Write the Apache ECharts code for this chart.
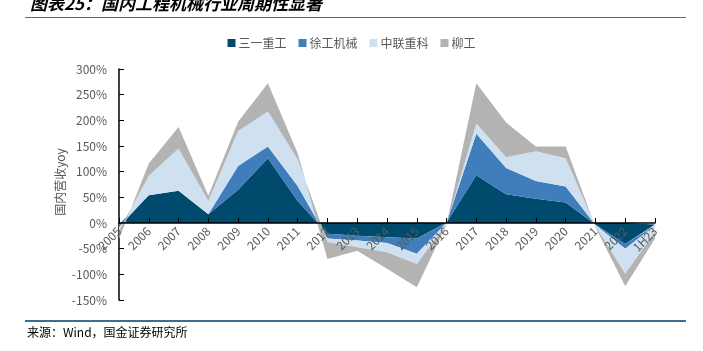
<!DOCTYPE html>
<html><head><meta charset="utf-8">
<script src="https://cdn.jsdelivr.net/npm/echarts@6/dist/echarts.min.js"></script>
<style>html,body{margin:0;padding:0;background:#fff}#c{width:703px;height:351px}</style>
</head><body><div id="c"></div>
<script>
const categories = ['2005','2006','2007','2008','2009','2010','2011','2012','2013','2014','2015','2016','2017','2018','2019','2020','2021','2022','1H23'];
const sany   = [-3, 54, 63, 17, 65, 126, 43, -21, -25, -28, -30, 1, 93, 56, 47, 40, -3, -41, -3];
const xcmg   = [-5, 0, 0, 0, 46, 23, 29, -9, -9, -11, -30, 0, 81, 51, 35, 31, -1, -9, -2];
const zoomlion = [-7, 38, 82, 26, 68, 68, 52, -7, -13, -18, -20, -2, 20, 21, 58, 55, -2, -49, -12];
const liugong = [-16, 24, 42, 10, 18, 55, 12, -33, -7, -32, -45, -1, 78, 68, 9, 23, -2, -24, -13];
const yTicks = [-150, -100, -50, 0, 50, 100, 150, 200, 250, 300];

const names = ['三一重工','徐工机械','中联重科','柳工'];
const colors = ['#004A6E','#3F7EBB','#CFE0F1','#B3B3B3'];
const datas = [sany, xcmg, zoomlion, liugong];

const chart = echarts.init(document.getElementById('c'));
chart.setOption({
  animation: false,
  textStyle: {fontFamily: '"Noto Sans CJK SC", "Noto Sans", sans-serif'},
  legend: {
    top: 32, left: 'center', itemWidth: 8, itemHeight: 8, itemGap: 12,
    icon: 'rect',
    textStyle: {color: '#595959', fontSize: 12, padding: [0,0,0,-2]},
    data: names
  },
  grid: {left: 119, right: 48, top: 69, bottom: 51, containLabel: false},
  xAxis: {
    type: 'category', data: categories, boundaryGap: false, z: 10,
    offset: -77,
    axisLine: {onZero: false, lineStyle: {color: '#000', width: 1.5}},
    axisTick: {inside: true, length: 5, lineStyle: {color: '#000'}, alignWithLabel: true},
    axisLabel: {rotate: 45, color: '#595959', fontSize: 12, margin: 6, interval: 0}
  },
  yAxis: {
    type: 'value', min: -150, max: 300, interval: 50,
    axisLine: {show: true, lineStyle: {color: '#000', width: 1.5}},
    axisTick: {show: true, inside: true, length: 5, lineStyle: {color: '#000'}},
    splitLine: {show: false},
    axisLabel: {color: '#595959', fontSize: 12, margin: 12, formatter: v => yTicks.includes(v) ? v + '%' : ''}
  },
  series: datas.map((d, i) => ({
    name: names[i], type: 'line', stack: 'total', data: d,
    symbol: 'none', lineStyle: {width: 0}, itemStyle: {color: colors[i]},
    areaStyle: {color: colors[i], opacity: 1}
  })),
  graphic: [
    {type: 'text', x: 60, y: 182, rotation: Math.PI / 2,
     style: {text: '国内营收yoy', fill: '#595959', font: '12px "Noto Sans CJK SC"', align: 'center', verticalAlign: 'middle'}},
    {type: 'text', left: 30, top: -5, style: {text: '图表25：国内工程机械行业周期性显著', fill: '#000', font: 'italic bold 17px "Noto Sans CJK SC"'}},
    {type: 'rect', shape: {x: 25, y: 17, width: 661, height: 1}, style: {fill: '#3B7196'}},
    {type: 'rect', shape: {x: 25, y: 320, width: 661, height: 2}, style: {fill: '#3B6E8F'}},
    {type: 'text', left: 27, top: 326, style: {text: '来源：Wind，国金证券研究所', fill: '#000', font: '12px "Noto Sans CJK SC"'}}
  ]
});
</script></body></html>
